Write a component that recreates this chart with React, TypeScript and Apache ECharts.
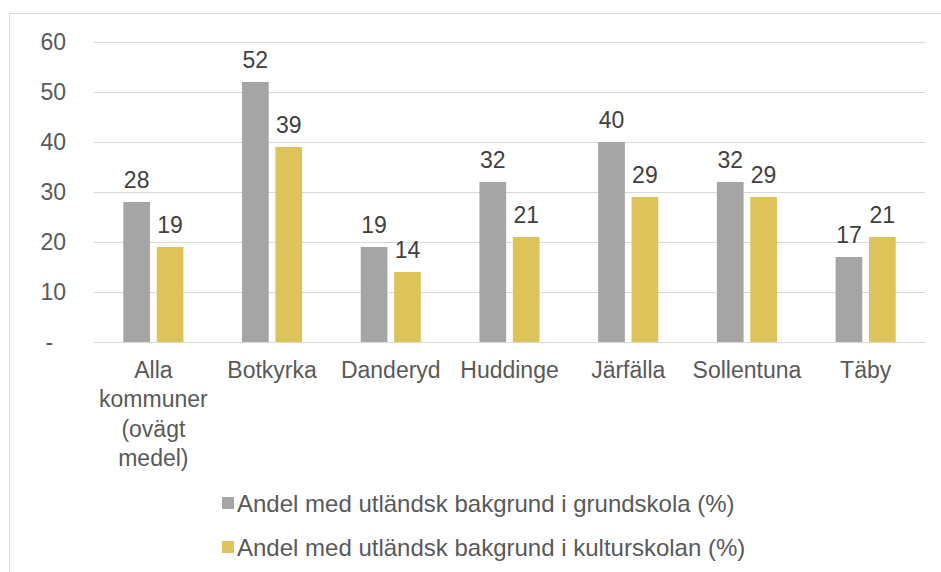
import React, { useEffect, useRef } from "react";
import * as echarts from "echarts";

const categories = ["Alla\nkommuner\n(ovägt\nmedel)", "Botkyrka", "Danderyd", "Huddinge", "Järfälla", "Sollentuna", "Täby"];
const grundskola = [28, 52, 19, 32, 40, 32, 17];
const kulturskolan = [19, 39, 14, 21, 29, 29, 21];
const seriesNames = [
  "Andel med utländsk bakgrund i grundskola (%)",
  "Andel med utländsk bakgrund i kulturskolan (%)",
];

export default function App() {
  const ref = useRef<HTMLDivElement>(null);
  useEffect(() => {
    const chart = echarts.init(ref.current!, null, { renderer: "svg" });
    const font = "'Liberation Sans', Arial, sans-serif";
    const labelStyle = {
      show: true,
      position: "top",
      distance: 11,
      color: "#404040",
      fontSize: 23,
      fontFamily: font,
    };
    chart.setOption({
      animation: false,
      textStyle: { fontFamily: font },
      graphic: [
        {
          type: "rect",
          shape: { x: 9.5, y: 13.5, width: 960, height: 600 },
          style: { fill: "none", stroke: "#D9D9D9", lineWidth: 1 },
          silent: true,
        },
      ],
      grid: { left: 94, right: 16, top: 42, height: 300 },
      xAxis: {
        type: "category",
        data: categories,
        axisTick: { show: false },
        axisLine: { lineStyle: { color: "#D9D9D9", width: 1 } },
        axisLabel: {
          color: "#595959",
          fontSize: 23,
          lineHeight: 29.5,
          margin: 13,
          interval: 0,
          fontFamily: font,
        },
      },
      yAxis: {
        type: "value",
        min: 0,
        max: 60,
        interval: 10,
        axisLine: { show: false },
        axisTick: { show: false },
        splitLine: { lineStyle: { color: "#D9D9D9", width: 1 } },
        axisLabel: {
          color: "#595959",
          fontSize: 23,
          margin: 28,
          fontFamily: font,
          formatter: (v: number) => (v === 0 ? "-  " : String(v)),
        },
      },
      legend: {
        orient: "vertical",
        left: 217,
        top: 486,
        itemWidth: 12,
        itemHeight: 12,
        itemGap: 20,
        icon: "rect",
        textStyle: { color: "#595959", fontSize: 24, fontFamily: font, padding: [0, 0, 0, -2] },
        data: seriesNames,
      },
      series: [
        {
          name: seriesNames[0],
          type: "bar",
          data: grundskola,
          barWidth: "22.5%",
          barGap: "25%",
          itemStyle: { color: "#A5A5A5" },
          label: labelStyle,
        },
        {
          name: seriesNames[1],
          type: "bar",
          data: kulturskolan,
          barWidth: "22.5%",
          barGap: "25%",
          itemStyle: { color: "#DEC35A" },
          label: labelStyle,
        },
      ],
    });
    return () => chart.dispose();
  }, []);
  return <div ref={ref} style={{ width: 941, height: 572, position: "absolute", left: 0, top: 0 }} />;
}
